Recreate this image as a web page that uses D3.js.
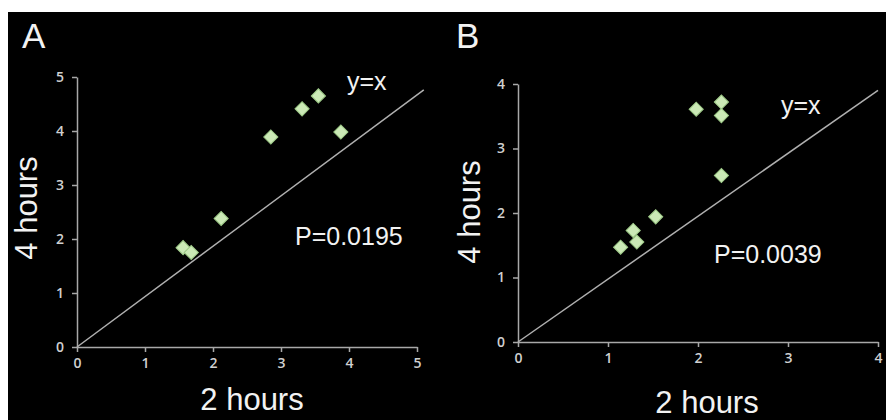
<!DOCTYPE html>
<html>
<head>
<meta charset="utf-8">
<script src="https://cdn.jsdelivr.net/npm/d3@7"></script>
<style>
  body { margin: 0; background: #fff; }
  svg { display: block; }
  .tick line, .domain { stroke: #a8a8a8; stroke-width: 1.5; }
  .big { font-family: "Liberation Sans", Arial, sans-serif; fill: #f2f2f2; }
</style>
</head>
<body>
<svg id="chart"></svg>
<script>
// panel A: 2 hours vs 4 hours
const aX = [1.56, 1.68, 2.12, 2.85, 3.31, 3.55, 3.88];
const aY = [1.84, 1.75, 2.38, 3.89, 4.41, 4.65, 3.98];
const aTicks = [0, 1, 2, 3, 4, 5];
const aLine = [[0, 0], [5.1, 4.76]];

// panel B
const bX = [1.14, 1.28, 1.32, 1.53, 1.98, 2.26, 2.26, 2.26];
const bY = [1.47, 1.73, 1.55, 1.94, 3.61, 3.72, 3.51, 2.58];
const bTicks = [0, 1, 2, 3, 4];
const bLine = [[0, 0], [4, 3.9]];

const labels = ["A", "B"];
const pValues = ["P=0.0195", "P=0.0039"];

var width = 886, height = 420;

const svg = d3.select("#chart").attr("width", width).attr("height", height);

svg.append("rect")
    .attr("x", 8).attr("y", 12)
    .attr("width", width - 8).attr("height", height - 12)
    .attr("fill", "#000");

function drawPanel(cfg) {
  let x = d3.scaleLinear().domain(cfg.domain).range(cfg.xr);
  let y = d3.scaleLinear().domain(cfg.domain).range(cfg.yr);
  let g = svg.append("g");

  let gx = g.append("g")
      .attr("transform", `translate(0,${cfg.yr[0]})`)
      .call(d3.axisBottom(x).tickValues(cfg.ticks).tickFormat(d3.format("d")).tickSizeInner(5).tickSizeOuter(0).tickPadding(6));
  let gy = g.append("g")
      .attr("transform", `translate(${cfg.xr[0]},0)`)
      .call(d3.axisLeft(y).tickValues(cfg.ticks).tickFormat(d3.format("d")).tickSizeInner(5).tickSizeOuter(0).tickPadding(8));
  [gx, gy].forEach(a => a.selectAll("text")
      .attr("font-family", "'Open Sans', sans-serif")
      .attr("font-size", 14)
      .attr("font-weight", 600)
      .attr("fill", "#d0d0d0"));

  // y=x reference line
  g.append("path")
      .datum(cfg.line)
      .attr("d", d3.line().x(d => x(d[0])).y(d => y(d[1])))
      .attr("stroke", "#b0b0b0")
      .attr("stroke-width", 1.5)
      .attr("fill", "none");

  let sym = d3.symbol().type(d3.symbolSquare).size(100);
  g.selectAll(".pt")
    .data(cfg.xs.map((v, i) => [v, cfg.ys[i]]))
    .enter().append("path")
      .attr("class", "pt")
      .attr("d", sym)
      .attr("transform", d => `translate(${x(d[0])},${y(d[1])}) rotate(45)`)
      .attr("fill", "#cbe9b6")
      .attr("stroke", "#9cc886")
      .attr("stroke-width", 1);

  g.append("text").attr("class", "big")
      .attr("x", cfg.letter[0]).attr("y", cfg.letter[1])
      .style("font-size", "35px")
      .text(cfg.label);
  g.append("text").attr("class", "big")
      .attr("x", cfg.xlab[0]).attr("y", cfg.xlab[1])
      .attr("text-anchor", "middle")
      .style("font-size", "31px")
      .text("2 hours");
  g.append("text").attr("class", "big")
      .attr("transform", `translate(${cfg.ylab[0]},${cfg.ylab[1]}) rotate(-90)`)
      .attr("text-anchor", "middle")
      .style("font-size", "31px")
      .text("4 hours");
  g.append("text").attr("class", "big")
      .attr("x", cfg.yx[0]).attr("y", cfg.yx[1])
      .style("font-size", "25px")
      .text("y=x");
  g.append("text").attr("class", "big")
      .attr("x", cfg.p[0]).attr("y", cfg.p[1])
      .style("font-size", "25px")
      .text(cfg.pText);
}

drawPanel({
  domain: [0, 5], ticks: aTicks, xr: [77, 417], yr: [347, 77],
  xs: aX, ys: aY, line: aLine, label: labels[0], pText: pValues[0],
  letter: [22, 48], xlab: [252, 410], ylab: [37, 208], yx: [347, 90], p: [295, 245]
});

drawPanel({
  domain: [0, 4], ticks: bTicks, xr: [518, 878], yr: [342, 84],
  xs: bX, ys: bY, line: bLine, label: labels[1], pText: pValues[1],
  letter: [456, 48], xlab: [707, 413], ylab: [480, 212], yx: [781, 114], p: [714, 263]
});
</script>
</body>
</html>
